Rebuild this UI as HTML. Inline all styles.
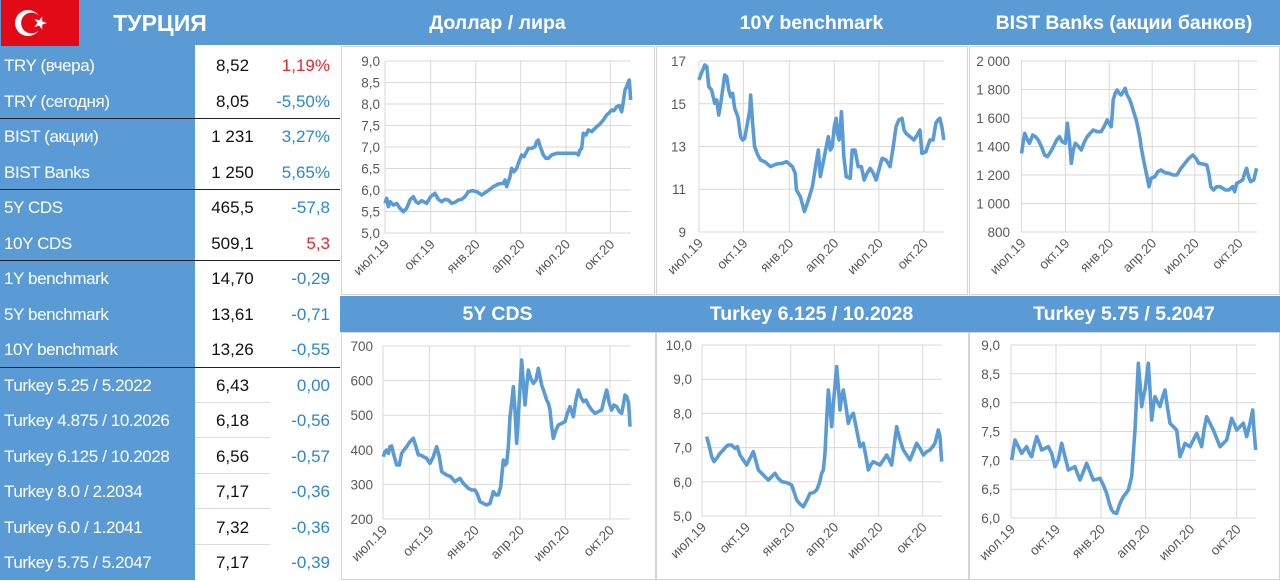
<!DOCTYPE html>
<html><head><meta charset="utf-8">
<style>
html,body{margin:0;padding:0;background:#fff;}
body{width:1280px;height:580px;position:relative;overflow:hidden;font-family:"Liberation Sans",sans-serif;}
.a{position:absolute;}
.lab{position:absolute;left:4px;color:#fff;font-size:17px;line-height:35.5px;white-space:nowrap;letter-spacing:-0.4px;}
.val{position:absolute;left:195px;width:75px;text-align:center;color:#111;font-size:17px;line-height:35.5px;}
.chg{position:absolute;left:268px;width:62px;text-align:right;color:#2E86D0;font-size:17px;line-height:35.5px;}
.red{color:#E8262B;}
.sep{position:absolute;left:0;width:340px;height:1px;background:#222;}
.gsep{position:absolute;left:195px;width:75px;height:1px;background:#ddd;}
.title{position:absolute;color:#fff;font-weight:bold;font-size:19.5px;text-align:center;line-height:24px;}
svg text{font-family:"Liberation Sans",sans-serif;font-size:13.5px;fill:#595959;}
</style></head><body>
<div class="a" style="left:0;top:0;width:1280px;height:45px;background:#5B9BD5"></div>
<div class="a" style="left:340px;top:296px;width:940px;height:36px;background:#5B9BD5"></div>
<div class="a" style="left:0;top:45px;width:195px;height:535px;background:#5B9BD5"></div>
<div class="a" style="left:1px;top:0;width:78px;height:46px;background:#E30A17"></div>
<svg class="a" style="left:0;top:0" width="80" height="46">
<circle cx="28" cy="23" r="13" fill="#fff"/><circle cx="31.5" cy="23" r="10.4" fill="#E30A17"/>
<polygon fill="#fff" points="47,23 42.2,24.6 42.2,29.6 39.2,25.6 34.4,27.1 37.4,23 34.4,18.9 39.2,20.4 42.2,16.4 42.2,21.4"/>
</svg>
<div class="title" style="left:100px;top:11px;width:120px;font-size:23px;">ТУРЦИЯ</div>
<div class="title" style="left:340px;top:11px;width:315px;">Доллар / лира</div>
<div class="title" style="left:655px;top:11px;width:313px;">10Y benchmark</div>
<div class="title" style="left:968px;top:11px;width:312px;">BIST Banks (акции банков)</div>
<div class="title" style="left:340px;top:302px;width:315px;">5Y CDS</div>
<div class="title" style="left:655px;top:302px;width:313px;">Turkey 6.125 / 10.2028</div>
<div class="title" style="left:968px;top:302px;width:312px;">Turkey 5.75 / 5.2047</div>

<div class="lab" style="top:48px">TRY (вчера)</div><div class="val" style="top:48px">8,52</div><div class="chg red" style="top:48px">1,19%</div>
<div class="lab" style="top:83.5px">TRY (сегодня)</div><div class="val" style="top:83.5px">8,05</div><div class="chg" style="top:83.5px">-5,50%</div>
<div class="lab" style="top:119px">BIST (акции)</div><div class="val" style="top:119px">1 231</div><div class="chg" style="top:119px">3,27%</div>
<div class="lab" style="top:154.5px">BIST Banks</div><div class="val" style="top:154.5px">1 250</div><div class="chg" style="top:154.5px">5,65%</div>
<div class="lab" style="top:190px">5Y CDS</div><div class="val" style="top:190px">465,5</div><div class="chg" style="top:190px">-57,8</div>
<div class="lab" style="top:225.5px">10Y CDS</div><div class="val" style="top:225.5px">509,1</div><div class="chg red" style="top:225.5px">5,3</div>
<div class="lab" style="top:261px">1Y benchmark</div><div class="val" style="top:261px">14,70</div><div class="chg" style="top:261px">-0,29</div>
<div class="lab" style="top:296.5px">5Y benchmark</div><div class="val" style="top:296.5px">13,61</div><div class="chg" style="top:296.5px">-0,71</div>
<div class="lab" style="top:332px">10Y benchmark</div><div class="val" style="top:332px">13,26</div><div class="chg" style="top:332px">-0,55</div>
<div class="lab" style="top:367.5px">Turkey 5.25 / 5.2022</div><div class="val" style="top:367.5px">6,43</div><div class="chg" style="top:367.5px">0,00</div>
<div class="lab" style="top:403px">Turkey 4.875 / 10.2026</div><div class="val" style="top:403px">6,18</div><div class="chg" style="top:403px">-0,56</div>
<div class="lab" style="top:438.5px">Turkey 6.125 / 10.2028</div><div class="val" style="top:438.5px">6,56</div><div class="chg" style="top:438.5px">-0,57</div>
<div class="lab" style="top:474px">Turkey 8.0 / 2.2034</div><div class="val" style="top:474px">7,17</div><div class="chg" style="top:474px">-0,36</div>
<div class="lab" style="top:509.5px">Turkey 6.0 / 1.2041</div><div class="val" style="top:509.5px">7,32</div><div class="chg" style="top:509.5px">-0,36</div>
<div class="lab" style="top:545px">Turkey 5.75 / 5.2047</div><div class="val" style="top:545px">7,17</div><div class="chg" style="top:545px">-0,39</div>
<div class="sep" style="top:118px"></div><div class="sep" style="top:189px"></div><div class="sep" style="top:260px"></div><div class="sep" style="top:367px"></div>
<div class="gsep" style="top:402px"></div><div class="gsep" style="top:437px"></div><div class="gsep" style="top:473px"></div><div class="gsep" style="top:508px"></div><div class="gsep" style="top:544px"></div>

<svg class="a" style="left:0;top:0" width="1280" height="580">
<g fill="none" stroke="#d4d4d4" stroke-width="1">
<rect x="341.5" y="46.5" width="313" height="248"/><rect x="656.5" y="46.5" width="311" height="248"/><rect x="969.5" y="46.5" width="310" height="248"/>
<rect x="341.5" y="332.5" width="314" height="247"/><rect x="656.5" y="332.5" width="312" height="247"/><rect x="969.5" y="332.5" width="310" height="247"/>
</g>
<g stroke="#d9d9d9" stroke-width="1">
<path d="M385 61H631M385 82.5H631M385 104H631M385 125.5H631M385 147H631M385 168.5H631M385 190H631M385 211.5H631M385 233H631M385 61V233M430.7 61V233M475.7 61V233M520.7 61V233M566 61V233M610.3 61V233"/>
<path d="M699 61H944M699 103.75H944M699 146.5H944M699 189.25H944M699 232H944M699 61V232M743.4 61V232M789.3 61V232M834.3 61V232M878.9 61V232M923.9 61V232"/>
<path d="M1021 61H1257M1021 89.5H1257M1021 118H1257M1021 146.5H1257M1021 175H1257M1021 203.5H1257M1021 232H1257M1021.5 61V232M1065.4 61V232M1109.2 61V232M1152.2 61V232M1194.8 61V232M1238.7 61V232"/>
<path d="M383 346H630M383 380.6H630M383 415.2H630M383 449.8H630M383 484.4H630M383 519H630M383 346V519M429.3 346V519M475 346V519M520 346V519M565.3 346V519M610 346V519"/>
<path d="M702 345H942M702 379.2H942M702 413.4H942M702 447.6H942M702 481.8H942M702 516H942M702 345V516M746 345V516M790.7 345V516M834.3 345V516M878.7 345V516M922.7 345V516"/>
<path d="M1011 345H1256M1011 373.8H1256M1011 402.7H1256M1011 431.5H1256M1011 460.3H1256M1011 489.2H1256M1011 518H1256M1011 345V518M1056 345V518M1101 345V518M1145.7 345V518M1190.3 345V518M1236.7 345V518"/>
</g>
<g text-anchor="end">
<text x="380" y="66">9,0</text><text x="380" y="87.5">8,5</text><text x="380" y="109">8,0</text><text x="380" y="130.5">7,5</text><text x="380" y="152">7,0</text><text x="380" y="173.5">6,5</text><text x="380" y="195">6,0</text><text x="380" y="216.5">5,5</text><text x="380" y="238">5,0</text>
<text x="686" y="66">17</text><text x="686" y="109">15</text><text x="686" y="151.5">13</text><text x="686" y="194">11</text><text x="686" y="237">9</text>
<text x="1010" y="66">2 000</text><text x="1010" y="94.5">1 800</text><text x="1010" y="123">1 600</text><text x="1010" y="151.5">1 400</text><text x="1010" y="180">1 200</text><text x="1010" y="208.5">1 000</text><text x="1010" y="237">800</text>
<text x="373" y="351">700</text><text x="373" y="385.6">600</text><text x="373" y="420.2">500</text><text x="373" y="454.8">400</text><text x="373" y="489.4">300</text><text x="373" y="524">200</text>
<text x="692" y="350">10,0</text><text x="692" y="384.2">9,0</text><text x="692" y="418.4">8,0</text><text x="692" y="452.6">7,0</text><text x="692" y="486.8">6,0</text><text x="692" y="521">5,0</text>
<text x="1000" y="350">9,0</text><text x="1000" y="378.8">8,5</text><text x="1000" y="407.7">8,0</text><text x="1000" y="436.5">7,5</text><text x="1000" y="465.3">7,0</text><text x="1000" y="494.2">6,5</text><text x="1000" y="523">6,0</text>
</g>
<g text-anchor="end">
<text transform="translate(390,245) rotate(-45)">июл.19</text><text transform="translate(435.7,245) rotate(-45)">окт.19</text><text transform="translate(480.7,245) rotate(-45)">янв.20</text><text transform="translate(525.7,245) rotate(-45)">апр.20</text><text transform="translate(571,245) rotate(-45)">июл.20</text><text transform="translate(615.3,245) rotate(-45)">окт.20</text>
<text transform="translate(704,244) rotate(-45)">июл.19</text><text transform="translate(748.4,244) rotate(-45)">окт.19</text><text transform="translate(794.3,244) rotate(-45)">янв.20</text><text transform="translate(839.3,244) rotate(-45)">апр.20</text><text transform="translate(883.9,244) rotate(-45)">июл.20</text><text transform="translate(928.9,244) rotate(-45)">окт.20</text>
<text transform="translate(1026.5,244) rotate(-45)">июл.19</text><text transform="translate(1070.4,244) rotate(-45)">окт.19</text><text transform="translate(1114.2,244) rotate(-45)">янв.20</text><text transform="translate(1157.2,244) rotate(-45)">апр.20</text><text transform="translate(1199.8,244) rotate(-45)">июл.20</text><text transform="translate(1243.7,244) rotate(-45)">окт.20</text>
<text transform="translate(388,531) rotate(-45)">июл.19</text><text transform="translate(434.3,531) rotate(-45)">окт.19</text><text transform="translate(480,531) rotate(-45)">янв.20</text><text transform="translate(525,531) rotate(-45)">апр.20</text><text transform="translate(570.3,531) rotate(-45)">июл.20</text><text transform="translate(615,531) rotate(-45)">окт.20</text>
<text transform="translate(707,528) rotate(-45)">июл.19</text><text transform="translate(751,528) rotate(-45)">окт.19</text><text transform="translate(795.7,528) rotate(-45)">янв.20</text><text transform="translate(839.3,528) rotate(-45)">апр.20</text><text transform="translate(883.7,528) rotate(-45)">июл.20</text><text transform="translate(927.7,528) rotate(-45)">окт.20</text>
<text transform="translate(1016,530) rotate(-45)">июл.19</text><text transform="translate(1061,530) rotate(-45)">окт.19</text><text transform="translate(1106,530) rotate(-45)">янв.20</text><text transform="translate(1150.7,530) rotate(-45)">апр.20</text><text transform="translate(1195.3,530) rotate(-45)">июл.20</text><text transform="translate(1241.7,530) rotate(-45)">окт.20</text>
</g>
<g fill="none" stroke="#5B9BD5" stroke-width="3.6" stroke-linejoin="round">
<g transform="translate(340,40) scale(0.33333)"><polyline vector-effect="non-scaling-stroke" points="135,490 140,475 145,500 150,485 160,495 170,490 180,505 190,515 200,505 210,480 220,470 228,485 235,490 245,482 260,490 272,470 285,460 295,478 305,485 315,478 325,480 335,490 345,487 355,480 365,478 375,470 385,455 397,452 410,455 425,465 440,455 460,440 475,432 490,430 495,420 500,440 510,410 515,385 522,395 530,385 535,370 545,345 552,350 565,325 575,325 585,320 590,305 595,300 600,318 610,345 618,355 625,355 635,345 650,340 670,340 690,340 710,340 715,345 720,330 725,325 730,280 738,285 745,270 755,275 770,260 780,252 790,240 800,225 808,218 815,210 822,212 830,200 838,197 845,215 850,185 855,150 860,140 865,125 868,120 872,180"/></g>
<g transform="translate(655,40) scale(0.3984,0.33333)"><polyline vector-effect="non-scaling-stroke" points="110,120 118,95 125,75 130,80 135,140 142,150 150,190 155,180 160,225 165,190 175,105 180,110 185,150 190,170 195,160 200,205 208,230 215,290 220,300 225,295 232,250 238,210 240,165 245,250 250,320 258,345 265,360 275,365 290,380 305,372 320,370 330,365 345,380 352,400 355,450 365,470 375,515 385,480 395,440 403,380 410,330 413,380 415,410 425,350 435,290 440,330 445,320 450,260 455,235 458,280 462,300 466,250 468,215 474,350 480,410 490,415 495,330 502,330 510,380 518,380 525,420 532,400 540,385 548,400 555,420 562,390 570,355 580,360 590,380 598,320 605,260 612,240 620,235 625,270 630,280 640,290 650,300 658,285 665,270 670,340 680,335 690,300 698,300 705,250 710,240 715,235 720,260 725,300"/></g>
<g transform="translate(655,40) scale(0.3984,0.33333)"><polyline vector-effect="non-scaling-stroke" points="920,340 925,300 928,280 935,300 940,310 948,285 955,290 962,300 970,320 978,345 985,350 993,335 1000,320 1008,300 1015,290 1022,305 1030,310 1035,250 1040,300 1045,370 1050,330 1055,310 1062,318 1070,330 1078,305 1085,290 1092,280 1100,270 1110,275 1120,275 1128,258 1135,240 1140,250 1145,260 1148,220 1150,180 1155,160 1160,150 1165,160 1170,165 1175,155 1180,145 1185,165 1190,175 1195,190 1200,210 1208,240 1215,280 1218,300 1220,320 1228,370 1235,410 1240,440 1245,415 1255,410 1262,395 1270,390 1280,398 1290,400 1300,405 1310,405 1320,385 1330,370 1340,355 1350,345 1358,355 1365,370 1375,372 1385,375 1390,400 1395,440 1402,450 1410,440 1418,440 1425,445 1432,450 1440,450 1445,445 1450,440 1455,455 1460,430 1468,425 1475,420 1480,400 1485,385 1490,410 1495,425 1503,420 1510,385"/></g>
<g transform="translate(340,290) scale(0.33333)"><polyline vector-effect="non-scaling-stroke" points="130,500 135,485 140,480 145,490 150,470 155,468 160,490 170,525 178,525 185,490 192,480 200,470 210,455 220,445 228,470 235,495 242,495 250,500 260,505 270,520 280,500 290,470 298,500 305,545 312,550 320,555 332,560 345,575 352,570 360,565 370,580 385,595 395,600 405,600 412,612 420,635 430,640 440,645 450,640 460,605 468,615 475,615 482,590 490,510 495,525 500,520 505,470 510,380 515,340 520,290 525,360 530,460 538,330 545,210 550,280 555,345 560,290 565,240 572,265 580,280 588,270 595,235 600,260 605,285 612,305 620,330 625,340 630,360 635,410 640,445 648,420 655,405 665,400 675,395 682,370 690,350 695,365 700,380 708,330 715,300 722,320 730,335 738,330 745,345 755,360 765,370 775,365 785,360 792,330 800,300 808,340 815,360 822,345 830,350 838,365 845,370 850,345 855,315 860,320 865,335 868,370 870,410"/></g>
<g transform="translate(640,280) scale(0.33333)"><polyline vector-effect="non-scaling-stroke" points="200,470 207,495 215,530 222,545 230,535 240,520 250,510 258,500 265,495 275,495 285,505 292,500 300,525 310,540 320,555 330,535 340,515 347,540 355,570 370,585 385,600 395,590 405,580 415,595 425,605 440,608 455,615 462,635 470,660 480,672 490,680 500,662 510,640 520,638 530,630 538,610 545,580 550,570 555,520 560,420 565,330 570,380 575,440 582,350 590,260 595,320 600,390 605,350 610,330 618,380 625,430 632,410 640,400 650,450 660,500 665,495 670,490 678,530 685,570 692,555 700,545 710,550 720,555 730,540 740,525 748,540 755,555 762,500 770,440 780,480 790,510 800,525 810,540 820,515 830,490 840,505 850,525 860,515 870,510 878,500 885,490 890,470 895,450 900,470 905,545"/></g>
<g transform="translate(960,290) scale(0.33333)"><polyline vector-effect="non-scaling-stroke" points="155,510 160,480 165,450 175,470 185,490 192,480 200,470 208,490 215,500 222,470 230,440 238,460 245,480 255,475 265,470 275,490 285,530 295,510 305,460 315,500 325,540 335,535 345,530 352,550 360,570 370,545 380,520 390,545 400,570 410,568 420,565 430,585 440,610 448,640 455,660 462,668 470,670 480,640 490,620 498,610 505,600 510,580 515,560 520,490 525,420 530,320 535,220 540,280 545,350 550,320 555,300 560,260 565,220 570,300 575,390 580,350 585,320 592,335 600,350 608,320 615,300 622,350 630,400 640,410 650,420 655,460 660,500 668,480 675,460 682,465 690,470 700,450 710,430 718,450 725,470 732,420 740,380 750,400 760,420 770,445 780,470 790,460 800,450 808,415 815,385 822,400 830,420 840,410 850,400 855,420 860,440 870,400 878,360 882,420 887,480"/></g>
</g>
</svg>
</body></html>
